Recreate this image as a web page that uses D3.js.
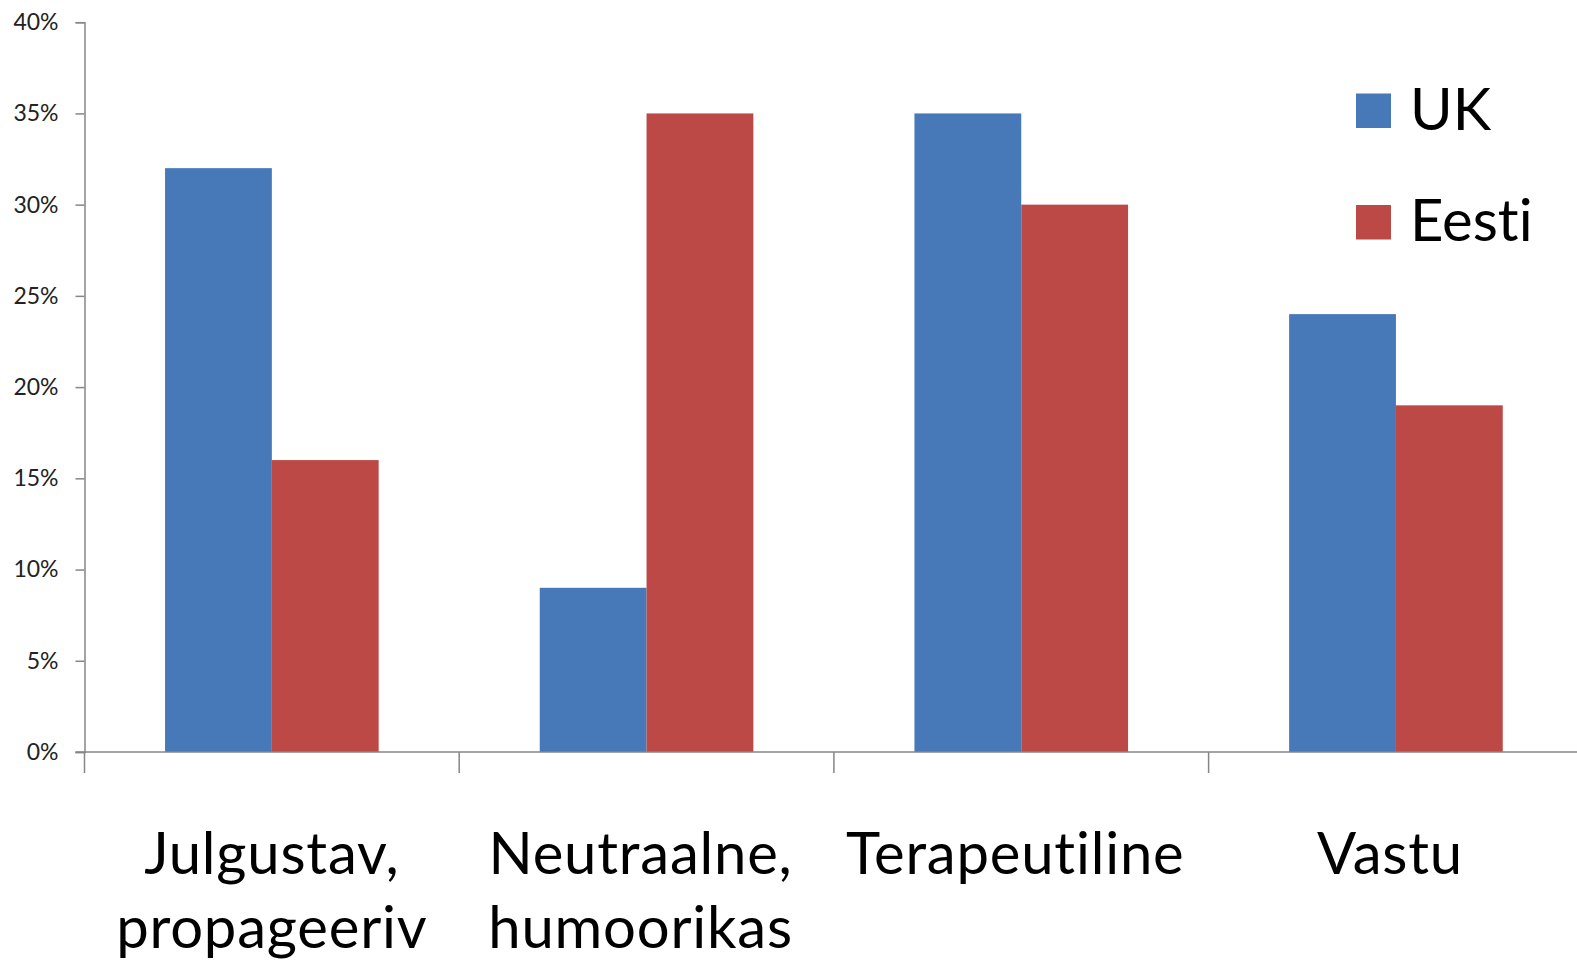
<!DOCTYPE html>
<html><head><meta charset="utf-8">
<script src="https://cdn.jsdelivr.net/npm/d3@7"></script>
<style>html,body{margin:0;padding:0;background:#fff;overflow:hidden;width:1577px;height:964px}svg{display:block;position:absolute;left:0;top:0}text{font-variant-ligatures:none;font-feature-settings:"liga" 0}</style>
</head><body>
<svg id="c" width="1577" height="964" viewBox="0 0 1577 964"></svg>
<script>
const categories = [["Julgustav,","propageeriv"],["Neutraalne,","humoorikas"],["Terapeutiline"],["Vastu"]];
const seriesNames = ["UK","Eesti"];
const ukValues = [0.32,0.09,0.35,0.24];
const eestiValues = [0.16,0.35,0.30,0.19];
const yTicks = [0,0.05,0.10,0.15,0.20,0.25,0.30,0.35,0.40];
const colors = ["#4779B9","#BC4946"];

(function(){
const svg = d3.select("#c");
const font = "Lato, 'Open Sans', sans-serif";
const mLeft = 84.5, mRight = 1583.3, mTop = 22.2, mBottom = 752;
const keys = categories.map((c,i)=>i);
const x = d3.scaleBand().domain(keys).range([mLeft,mRight]).paddingInner(0).paddingOuter(0);
const inner = d3.scaleBand().domain(seriesNames).range([0,x.bandwidth()]).paddingOuter(0.754).paddingInner(0);
const y = d3.scaleLinear().domain([0,0.4]).range([mBottom,mTop]);
const axisColor = "#868686";

// y axis
const ya = svg.append("g").attr("transform",`translate(${mLeft},0)`)
  .call(d3.axisLeft(y).tickValues(yTicks).tickFormat(d3.format(".0%")).tickSize(9).tickPadding(17));
ya.select(".domain").attr("stroke",axisColor).attr("stroke-width",1.5);
ya.selectAll(".tick line").attr("stroke",axisColor).attr("stroke-width",1.5);
ya.selectAll(".tick text").attr("font-family",font).attr("font-size",23).attr("fill","#222");

// bars
const data = [ukValues, eestiValues];
seriesNames.forEach((s,si)=>{
  svg.append("g").selectAll("rect").data(data[si]).join("rect")
    .attr("x",(d,i)=>x(i)+inner(s))
    .attr("width",inner.bandwidth())
    .attr("y",d=>y(d))
    .attr("height",d=>y(0)-y(d))
    .attr("fill",colors[si]);
});

// x axis
const xa = svg.append("g").attr("transform",`translate(0,${mBottom})`);
xa.append("line").attr("x1",mLeft-9).attr("x2",1577).attr("y1",0).attr("y2",0).attr("stroke",axisColor).attr("stroke-width",1.5);
xa.selectAll("line.t").data(keys).join("line").attr("class","t")
  .attr("x1",d=>x(d)).attr("x2",d=>x(d)).attr("y1",0).attr("y2",21)
  .attr("stroke",axisColor).attr("stroke-width",1.5);
const lbl = xa.selectAll("text.c").data(categories).join("text").attr("class","c")
  .attr("text-anchor","middle").attr("font-family",font).attr("font-size",58)
  .attr("letter-spacing","0.8px").attr("fill","#000");
lbl.each(function(c,i){
  const t = d3.select(this);
  c.forEach((line,li)=>{
    t.append("tspan").attr("x",x(i)+x.bandwidth()/2 + (i>0 ? -6 : 0)).attr("y",122+li*74).text(line);
  });
});

// legend
const lg = svg.append("g");
seriesNames.forEach((s,si)=>{
  lg.append("rect").attr("x",1356).attr("y",93.5+si*111.5).attr("width",35).attr("height",34.5).attr("fill",colors[si]);
  lg.append("text").attr("x",1410).attr("y",129.5+si*111).attr("font-family",font).attr("font-size",58)
    .attr("fill","#000").text(s);
});
})();
</script>
</body></html>
